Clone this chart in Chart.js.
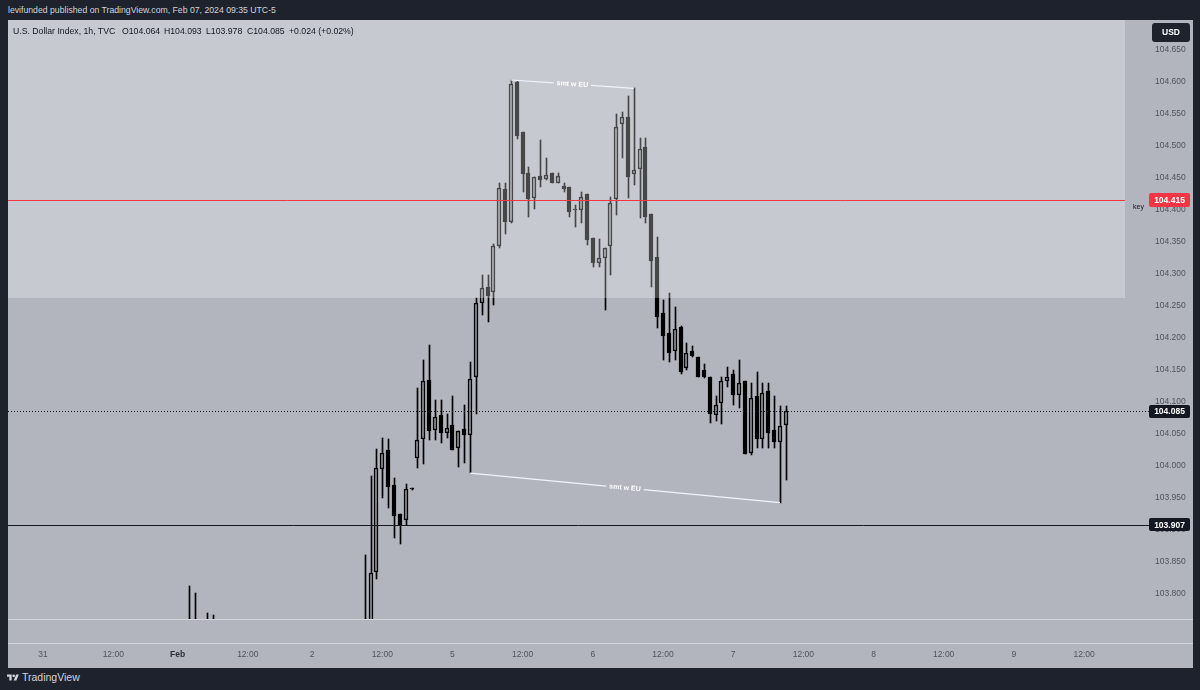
<!DOCTYPE html>
<html>
<head>
<meta charset="utf-8">
<title>DXY 1h</title>
<script src="https://cdn.jsdelivr.net/npm/chart.js@4.4.1/dist/chart.umd.min.js"></script>
<style>
  html, body { margin: 0; padding: 0; background: #1e222d; }
  #frame { position: relative; width: 1200px; height: 690px; overflow: hidden; background: #1e222d;
           font-family: "Liberation Sans", Arial, sans-serif; }
  #byline { position: absolute; left: 8px; top: 5px; font-size: 8.7px; line-height: 11px; color: #d1d4dc; white-space: nowrap; }
  #wrap { position: absolute; left: 8px; top: 20px; width: 1185px; height: 648px; }
  .lg { position: absolute; top: 26px; font-size: 8.7px; line-height: 10px; color: #131722; white-space: nowrap; }
  #brand { position: absolute; left: 7px; top: 671px; height: 12px; display: flex; align-items: center; gap: 3px;
           color: #d1d4dc; font-size: 10.5px; }
</style>
</head>
<body>
<div id="frame">
  <div id="byline">levifunded published on TradingView.com, Feb 07, 2024 09:35 UTC-5</div>
  <div id="wrap"><canvas id="chart" width="1185" height="648"></canvas></div>
  <div class="lg" style="left:13px">U.S. Dollar Index, 1h, TVC</div>
  <div class="lg" style="left:122px">O104.064</div>
  <div class="lg" style="left:164px">H104.093</div>
  <div class="lg" style="left:206px">L103.978</div>
  <div class="lg" style="left:247px">C104.085</div>
  <div class="lg" style="left:289px">+0.024 (+0.02%)</div>
  <div id="brand">
    <svg width="12" height="9" viewBox="0 0 36 26"><g fill="#d1d4dc"><path d="M14 22H7V11H0V4h14v18zM28 22h-8l7.5-18h8L28 22z"/><circle cx="20" cy="8" r="4"/></g></svg>
    <span>TradingView</span>
  </div>
</div>

<script>
// hourly slots across the visible time axis (future slots stay empty)
const slotCount = 192;
const tickSlot = [6, 18, 29, 41, 52, 64, 76, 88, 100, 112, 124, 136, 148, 160, 172, 184];
const tickText = ['31', '12:00', 'Feb', '12:00', '2', '12:00', '5', '12:00', '6', '12:00', '7', '12:00', '8', '12:00', '9', '12:00'];
const priceTicks = [103.80, 103.85, 103.90, 103.95, 104.00, 104.05, 104.10, 104.15, 104.20, 104.25,
                    104.30, 104.35, 104.40, 104.45, 104.50, 104.55, 104.60, 104.65];

// candles
const slot = [31, 32, 34, 35,
  61, 62, 63, 64, 65, 66, 67, 68, 69, 70,
  71, 72, 73, 74, 75, 76, 77, 78, 79, 80,
  81, 82, 83, 84, 85, 86, 87, 88, 89, 90,
  91, 92, 93, 94, 95, 96, 97, 98, 99, 100,
  101, 102, 103, 104, 105, 106, 107, 108, 109, 110,
  111, 112, 113, 114, 115, 116, 117, 118, 119, 120,
  121, 122, 123, 124, 125, 126, 127, 128, 129, 130,
  131, 132, 133];
const open = [103.745, 103.750, 103.748, 103.742,
  103.700, 103.745, 103.834, 103.995, 104.024, 103.970, 103.924, 103.915, 103.963, 104.012,
  104.041, 104.134, 104.056, 104.079, 104.051, 104.063, 104.027, 104.057, 104.048, 104.138,
  104.254, 104.279, 104.271, 104.343, 104.432, 104.381, 104.600, 104.522, 104.458, 104.418,
  104.453, 104.448, 104.458, 104.442, 104.437, 104.436, 104.399, 104.400, 104.425, 104.356,
  104.317, 104.325, 104.343, 104.417, 104.534, 104.545, 104.456, 104.464, 104.498, 104.393,
  104.326, 104.239, 104.207, 104.179, 104.217, 104.153, 104.179, 104.170, 104.149, 104.138,
  104.079, 104.098, 104.132, 104.143, 104.110, 104.132, 104.020, 104.109, 104.041, 104.117,
  104.056, 104.037, 104.064];
const high = [103.812, 103.801, 103.769, 103.766,
  103.860, 103.984, 104.026, 104.043, 104.041, 103.980, 103.924, 103.971, 103.964, 104.121,
  104.165, 104.188, 104.102, 104.102, 104.081, 104.109, 104.054, 104.095, 104.162, 104.262,
  104.298, 104.298, 104.346, 104.442, 104.442, 104.603, 104.601, 104.522, 104.467, 104.451,
  104.509, 104.481, 104.458, 104.458, 104.442, 104.436, 104.407, 104.428, 104.425, 104.356,
  104.354, 104.340, 104.420, 104.550, 104.553, 104.578, 104.590, 104.512, 104.512, 104.393,
  104.357, 104.259, 104.270, 104.248, 104.218, 104.192, 104.187, 104.170, 104.159, 104.138,
  104.109, 104.138, 104.154, 104.149, 104.165, 104.132, 104.129, 104.146, 104.129, 104.129,
  104.109, 104.093, 104.093];
const low = [103.735, 103.740, 103.735, 103.730,
  103.690, 103.730, 103.822, 103.949, 103.934, 103.887, 103.877, 103.907, 103.962, 103.996,
  104.002, 104.040, 104.040, 104.035, 104.043, 104.024, 103.998, 104.004, 103.988, 104.081,
  104.235, 104.224, 104.251, 104.340, 104.362, 104.379, 104.510, 104.428, 104.389, 104.401,
  104.436, 104.447, 104.442, 104.442, 104.428, 104.389, 104.373, 104.380, 104.345, 104.310,
  104.310, 104.243, 104.298, 104.392, 104.481, 104.418, 104.439, 104.387, 104.379, 104.279,
  104.215, 104.165, 104.162, 104.165, 104.143, 104.149, 104.170, 104.138, 104.137, 104.067,
  104.070, 104.065, 104.123, 104.095, 104.090, 104.018, 104.016, 104.027, 104.027, 104.027,
  104.027, 103.942, 103.978];
const close = [103.750, 103.748, 103.742, 103.745,
  103.745, 103.832, 103.996, 104.020, 103.966, 103.921, 103.907, 103.963, 103.963, 104.040,
  104.132, 104.054, 104.076, 104.051, 104.059, 104.024, 104.054, 104.048, 104.135, 104.254,
  104.278, 104.265, 104.343, 104.434, 104.381, 104.597, 104.515, 104.456, 104.417, 104.451,
  104.447, 104.454, 104.442, 104.453, 104.432, 104.397, 104.401, 104.420, 104.353, 104.317,
  104.325, 104.340, 104.411, 104.529, 104.545, 104.451, 104.462, 104.495, 104.389, 104.320,
  104.232, 104.203, 104.176, 104.214, 104.146, 104.176, 104.171, 104.138, 104.138, 104.081,
  104.095, 104.132, 104.138, 104.110, 104.129, 104.018, 104.106, 104.041, 104.113, 104.051,
  104.037, 104.062, 104.085];

// drawings
const keyLevel = 104.415;
const lastPrice = 104.085;
const lineLevel = 103.907;
const zoneLow = 104.262;
const smtFromSlot = [86, 79];
const smtFromPrice = [104.603, 103.988];
const smtToSlot = [107, 132];
const smtToPrice = [104.590, 103.942];

const priceMin = 103.7598;
const priceMax = 104.6969;

const paneColor = '#b2b5be';
const ink = '#000000';
const axisText = '#50535e';
const fontFamily = '"Liberation Sans", Arial, sans-serif';

Chart.defaults.font.family = fontFamily;

function series(fn, empty) {
    const out = new Array(slotCount).fill(empty);
    slot.forEach((s, k) => { out[s] = fn(k); });
    return out;
}

const bodyData = series(k => [open[k], close[k]], null);
const upperWick = series(k => [Math.max(open[k], close[k]), high[k]], null);
const lowerWick = series(k => [low[k], Math.min(open[k], close[k])], null);
const bodyFill = series(k => close[k] < open[k] ? ink : 'rgba(0,0,0,0)', 'rgba(0,0,0,0)');

// keep candles on whole pixels so wicks and borders stay sharp
const snapCandles = {
    id: 'snapCandles',
    afterDatasetsUpdate(chart) {
        chart.data.datasets.forEach((ds, di) => {
            chart.getDatasetMeta(di).data.forEach(el => {
                if (!isFinite(el.x) || !isFinite(el.y)) return;
                const odd = Math.round(el.width) % 2 === 1;
                el.x = Math.round(el.x) + (odd ? 0.5 : 0);
                el.y = Math.round(el.y);
                el.base = Math.round(el.base);
            });
        });
    }
};

function tag(ctx, left, cy, w, h, fill, text) {
    ctx.fillStyle = fill;
    ctx.beginPath();
    ctx.roundRect(left, Math.round(cy - h / 2), w, h, 2);
    ctx.fill();
    ctx.fillStyle = '#ffffff';
    ctx.font = 'bold 8.5px ' + fontFamily;
    ctx.textAlign = 'center';
    ctx.textBaseline = 'middle';
    ctx.fillText(text, left + w / 2, cy + 0.5);
}

const tvDecor = {
    id: 'tvDecor',
    beforeDraw(chart) {
        const { ctx, width, height } = chart;
        ctx.save();
        ctx.fillStyle = paneColor;
        ctx.fillRect(0, 0, width, height);
        ctx.restore();
    },
    afterDatasetsDraw(chart) {
        const { ctx, chartArea: a, scales: { y } } = chart;
        ctx.save();
        const zy = Math.round(y.getPixelForValue(zoneLow));
        ctx.fillStyle = 'rgba(255,255,255,0.28)';
        ctx.fillRect(a.left, a.top, a.right - a.left, zy - a.top);
        ctx.restore();
    },
    afterDraw(chart) {
        const { ctx, chartArea: a, scales: { x, y }, width } = chart;
        const py = v => Math.round(y.getPixelForValue(v)) + 0.5;
        ctx.save();

        // pane separators
        ctx.strokeStyle = '#d1d4dc';
        ctx.lineWidth = 1;
        [a.bottom + 0.5, a.bottom + 24.5].forEach(sy => {
            ctx.beginPath(); ctx.moveTo(0, sy); ctx.lineTo(width, sy); ctx.stroke();
        });

        // key level
        ctx.strokeStyle = '#f23645';
        ctx.beginPath(); ctx.moveTo(a.left, py(keyLevel)); ctx.lineTo(a.right, py(keyLevel)); ctx.stroke();

        // horizontal line
        ctx.strokeStyle = '#131722';
        ctx.beginPath(); ctx.moveTo(a.left, py(lineLevel)); ctx.lineTo(a.right + 24, py(lineLevel)); ctx.stroke();

        // last price line
        ctx.setLineDash([1, 2]);
        ctx.beginPath(); ctx.moveTo(a.left, py(lastPrice)); ctx.lineTo(a.right + 24, py(lastPrice)); ctx.stroke();
        ctx.setLineDash([]);

        // smt trend lines with their text
        ctx.font = 'bold 7px ' + fontFamily;
        const tw = ctx.measureText('smt w EU').width;
        smtFromSlot.forEach((s, k) => {
            const x1 = x.getPixelForValue(s), y1 = y.getPixelForValue(smtFromPrice[k]);
            const x2 = x.getPixelForValue(smtToSlot[k]), y2 = y.getPixelForValue(smtToPrice[k]);
            const len = Math.hypot(x2 - x1, y2 - y1);
            const ux = (x2 - x1) / len, uy = (y2 - y1) / len;
            const mx = (x1 + x2) / 2, my = (y1 + y2) / 2;
            const gap = tw / 2 + 3;
            ctx.strokeStyle = '#f0f3fa';
            ctx.lineWidth = 1.2;
            ctx.beginPath();
            ctx.moveTo(x1, y1); ctx.lineTo(mx - ux * gap, my - uy * gap);
            ctx.moveTo(mx + ux * gap, my + uy * gap); ctx.lineTo(x2, y2);
            ctx.stroke();
            ctx.save();
            ctx.translate(mx, my);
            ctx.rotate(Math.atan2(y2 - y1, x2 - x1));
            ctx.fillStyle = '#ffffff';
            ctx.textAlign = 'center';
            ctx.textBaseline = 'middle';
            ctx.fillText('smt w EU', 0, 0);
            ctx.restore();
        });

        // price scale tags
        ctx.fillStyle = '#131722';
        ctx.font = '7px ' + fontFamily;
        ctx.textAlign = 'right';
        ctx.textBaseline = 'middle';
        ctx.fillText('key', a.right + 19, py(keyLevel) + 7);

        tag(ctx, a.right + 24, y.getPixelForValue(keyLevel), 41, 14, '#f23645', '104.415');
        tag(ctx, a.right + 24, y.getPixelForValue(lastPrice), 41, 13, '#131722', '104.085');
        tag(ctx, a.right + 24, y.getPixelForValue(lineLevel), 41, 13, '#131722', '103.907');

        ctx.fillStyle = '#1e222d';
        ctx.beginPath(); ctx.roundRect(a.right + 27, a.top + 3, 38, 19, 3); ctx.fill();
        ctx.fillStyle = '#ffffff';
        ctx.font = 'bold 8.5px ' + fontFamily;
        ctx.textAlign = 'center';
        ctx.fillText('USD', a.right + 46, a.top + 13);
        ctx.restore();
    }
};

new Chart(document.getElementById('chart'), {
    type: 'bar',
    data: {
        labels: Array.from({ length: slotCount }, (_, i) => i),
        datasets: [
            { label: 'upper wick', data: upperWick, backgroundColor: ink, barThickness: 1, grouped: false, order: 2 },
            { label: 'lower wick', data: lowerWick, backgroundColor: ink, barThickness: 1, grouped: false, order: 2 },
            {
                label: 'body', data: bodyData, backgroundColor: bodyFill, borderColor: ink, borderWidth: 1,
                borderSkipped: false, barThickness: 4, minBarLength: 1, grouped: false, order: 1
            }
        ]
    },
    options: {
        responsive: false,
        animation: false,
        layout: { padding: 0, autoPadding: false },
        plugins: { legend: { display: false }, tooltip: { enabled: false } },
        scales: {
            x: {
                type: 'category',
                offset: false,
                grid: { display: false, drawTicks: false },
                border: { display: false },
                ticks: {
                    autoSkip: false,
                    maxRotation: 0,
                    padding: 31,
                    color: ctx => tickText[ctx.index] === 'Feb' ? '#2a2e39' : axisText,
                    font: ctx => ({ size: 8.5, weight: tickText[ctx.index] === 'Feb' ? 'bold' : 'normal' }),
                    callback: (v, i) => tickText[i]
                },
                afterBuildTicks: s => { s.ticks = tickSlot.map(v => ({ value: v })); },
                afterFit: s => { s.height = 49; s.paddingLeft = 0; s.paddingRight = 0; }
            },
            y: {
                position: 'right',
                min: priceMin,
                max: priceMax,
                grid: { display: false, drawTicks: false },
                border: { display: false },
                ticks: {
                    padding: 30,
                    color: axisText,
                    font: { size: 8.5 },
                    callback: v => v.toFixed(3)
                },
                afterBuildTicks: s => { s.ticks = priceTicks.map(v => ({ value: v })); },
                afterFit: s => { s.width = 68; s.paddingTop = 0; s.paddingBottom = 0; }
            }
        }
    },
    plugins: [snapCandles, tvDecor]
});
</script>
</body>
</html>
